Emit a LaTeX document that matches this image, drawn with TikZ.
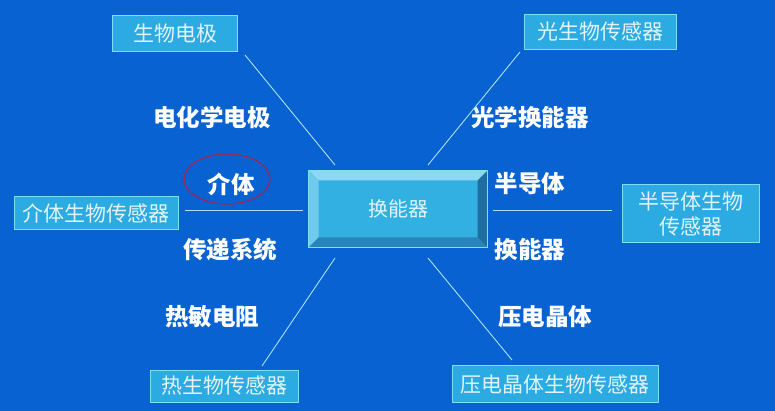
\documentclass[tikz,border=0pt]{standalone}
\usepackage{fontspec}
\newfontfamily\cjk{Noto Sans CJK SC}
\usetikzlibrary{calc}
\definecolor{bgblue}{RGB}{8,98,210}
\definecolor{boxfill}{RGB}{44,170,226}
\definecolor{boxline}{RGB}{130,220,242}
\definecolor{boxtext}{RGB}{225,244,252}
\definecolor{linkcol}{RGB}{170,225,245}
\definecolor{ringcol}{RGB}{140,45,100}
\definecolor{facecol}{RGB}{50,176,226}
\definecolor{bevtop}{RGB}{140,216,242}
\definecolor{bevleft}{RGB}{112,202,238}
\definecolor{bevright}{RGB}{30,110,160}
\definecolor{bevbot}{RGB}{40,132,186}
\tikzset{
  box/.style = {draw=boxline, line width=1pt, fill=boxfill, text=boxtext,
                font=\cjk\fontsize{21}{25}\selectfont, align=center,
                inner sep=0pt},
  lbl/.style = {text=white, font=\cjk\bfseries\fontsize{23.5}{27}\selectfont,
                inner sep=0pt},
  link/.style = {draw=linkcol, line width=0.9pt},
  core/.style = {draw=boxline, line width=1pt, fill=facecol, text=boxtext,
                 font=\cjk\fontsize{20}{24}\selectfont,
                 minimum width=178pt, minimum height=76pt},
}
\begin{document}
\begin{tikzpicture}[x=1pt,y=-1pt]
\useasboundingbox (0,0) rectangle (775,411);
\fill[bgblue] (0,0) rectangle (775,411);

% outer sensors
\node[box, minimum width=125pt, minimum height=36pt] (bio) at (175,34) {生物电极};
\node[box, minimum width=152pt, minimum height=35pt] (opt) at (600,32) {光生物传感器};
\node[box, minimum width=164pt, minimum height=33pt] (med) at (96,213) {介体生物传感器};
\node[box, minimum width=137pt, minimum height=58pt] (semi) at (691,214) {半导体生物\\传感器};
\node[box, minimum width=148pt, minimum height=32pt] (therm) at (224,386) {热生物传感器};
\node[box, minimum width=206pt, minimum height=37pt] (piezo) at (555,384) {压电晶体生物传感器};

% transducer in the middle
\node[core] (trans) at (398,209) {};
\fill[bevtop] (trans.north west) -- (trans.north east)
  -- ($(trans.north east)+(-10,10)$) -- ($(trans.north west)+(10,10)$) -- cycle;
\fill[bevleft] (trans.north west) -- ($(trans.north west)+(10,10)$)
  -- ($(trans.south west)+(10,-10)$) -- (trans.south west) -- cycle;
\fill[bevright] (trans.north east) -- (trans.south east)
  -- ($(trans.south east)+(-10,-10)$) -- ($(trans.north east)+(-10,10)$) -- cycle;
\fill[bevbot] (trans.south west) -- (trans.south east)
  -- ($(trans.south east)+(-10,-10)$) -- ($(trans.south west)+(10,-10)$) -- cycle;
\draw[boxline, line width=1pt] (trans.north west) rectangle (trans.south east);
\node[text=boxtext, font=\cjk\fontsize{20}{24}\selectfont] (core) at (trans) {换能器};

% labels
\node[lbl] (echem) at (212,117) {电化学电极};
\node[lbl] (optx) at (530,117) {光学换能器};
\node[lbl] (medi) at (231,184) {介体};
\node[lbl] (semic) at (530,184) {半导体};
\node[lbl] (relay) at (230,250) {传递系统};
\node[lbl] (trx) at (530,250) {换能器};
\node[lbl] (therr) at (212,317) {热敏电阻};
\node[lbl] (piezc) at (545,317) {压电晶体};
\draw[ringcol, line width=1.4pt] (227,179) ellipse [x radius=43, y radius=25];

% connectors
\coordinate (a1) at (245,55);  \coordinate (a2) at (335,165);
\coordinate (b1) at (520,52);  \coordinate (b2) at (428,165);
\coordinate (c1) at (185,210); \coordinate (c2) at (303,210);
\coordinate (d1) at (612,210); \coordinate (d2) at (493,210);
\coordinate (e1) at (262,366); \coordinate (e2) at (335,258);
\coordinate (f1) at (512,360); \coordinate (f2) at (428,258);
\draw[link] (a1) -- (a2);
\draw[link] (b1) -- (b2);
\draw[link] (c1) -- (c2);
\draw[link] (d1) -- (d2);
\draw[link] (e1) -- (e2);
\draw[link] (f1) -- (f2);
\end{tikzpicture}
\end{document}
